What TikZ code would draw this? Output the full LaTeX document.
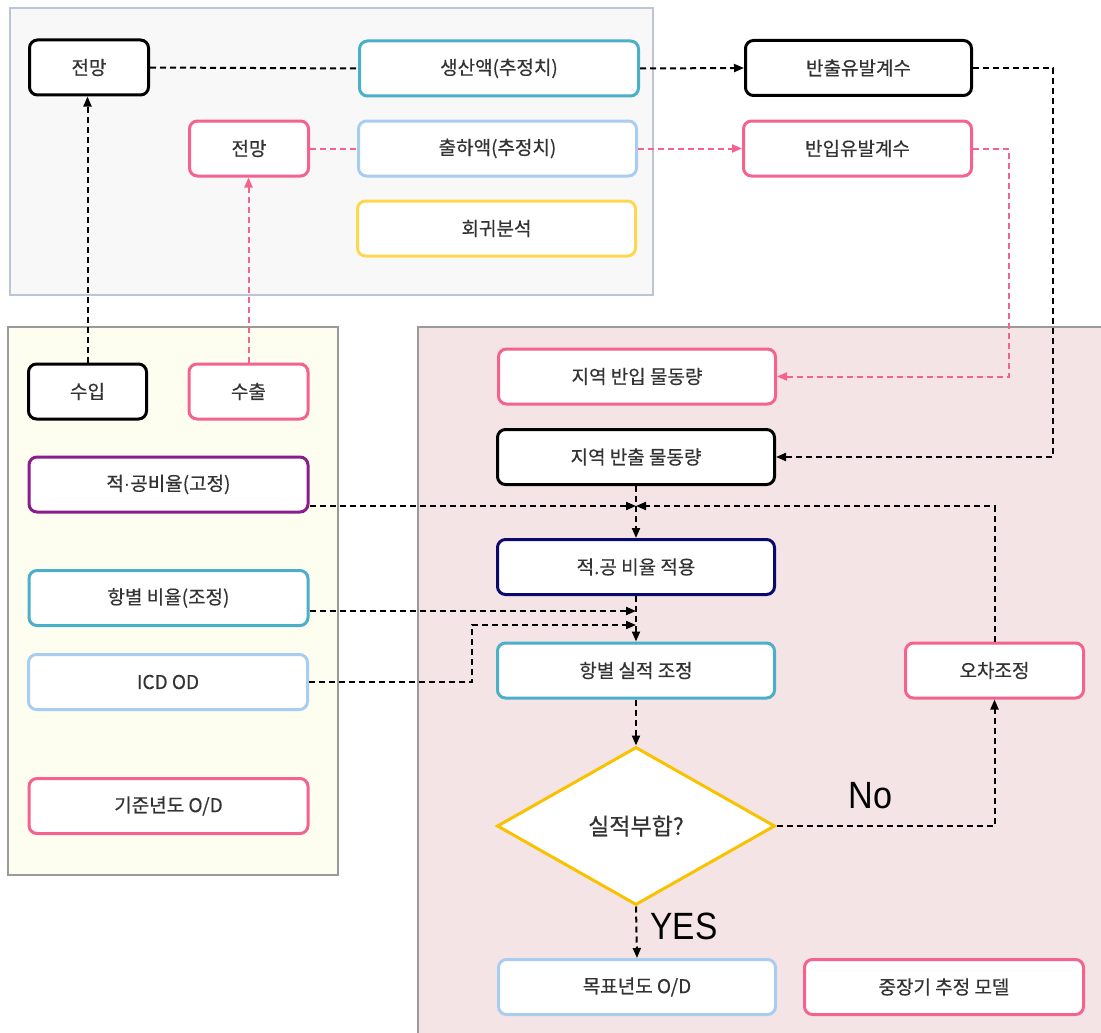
\documentclass[tikz,border=0pt]{standalone}
\usepackage{fontspec}
\usepackage{graphicx}
\setmainfont{Noto Sans CJK KR}[FakeBold=0.4]
\newfontfamily\latinfont{Liberation Sans}
\usetikzlibrary{positioning,shapes.geometric,arrows.meta}

\definecolor{txt}{HTML}{333333}
\definecolor{teal}{HTML}{4AAFC9}
\definecolor{sky}{HTML}{A9CDF0}
\definecolor{rose}{HTML}{F4628E}
\definecolor{gold}{HTML}{FFD74E}
\definecolor{plum}{HTML}{8A1C8C}
\definecolor{navy}{HTML}{0A0A6E}
\definecolor{amber}{HTML}{F9C200}

\tikzset{
  box/.style={draw=#1, line width=3pt, rounded corners=8pt, fill=white,
    minimum height=55pt, inner sep=0pt, text=txt,
    font=\fontsize{19}{22}\selectfont},
  small/.style={minimum width=119pt},
  wide/.style={minimum width=279pt},
  link/.style={line width=2pt, dash pattern=on 6pt off 4pt},
  arr/.style={link, -{Triangle[length=10pt,width=8pt]}},
  big/.style={font=\latinfont\fontsize{38}{40}\selectfont, inner sep=0pt}
}

\begin{document}
\begin{tikzpicture}[x=1pt,y=-1pt]
	\useasboundingbox (0,0) rectangle (1101,1033);
	
	\draw[draw={rgb,255:red,188;green,196;blue,216}, line width=2pt, fill={rgb,255:red,248;green,248;blue,248}] (10,8) rectangle (653,295);
	\draw[draw={rgb,255:red,154;green,154;blue,154}, line width=1.2pt, fill={rgb,255:red,253;green,253;blue,240}] (8,327) rectangle (338,875);
	\draw[draw={rgb,255:red,154;green,154;blue,154}, line width=1.2pt, fill={rgb,255:red,245;green,228;blue,230}] (418,327) rectangle (1110,1040);
	
	\node[box=black, small] (prj1) at (89,67.5) {전망};
	\node[box=teal, wide] (prod) at (499,68.5) {생산액(추정치)};
	\node[box=black, minimum width=226pt] (outc) at (858.5,68) {반출유발계수};
	\node[box=rose, small] (prj2) at (249,148.5) {전망};
	\node[box=sky, minimum width=278pt] (ship) at (497.5,148.5) {출하액(추정치)};
	\node[box=rose, minimum width=228pt] (inc) at (857.5,148.5) {반입유발계수};
	\node[box=gold, minimum width=278pt] (reg) at (496.5,228.5) {회귀분석};
	
	\node[box=black, minimum width=118pt] (imp) at (87.5,391.5) {수입};
	\node[box=rose, small] (exp) at (248.5,391.5) {수출};
	\node[box=plum, wide] (fix) at (168.5,484.5) {적{\latinfont ·}공비율(고정)};
	\node[box=teal, wide] (port) at (168.5,598) {항별 비율(조정)};
	\node[box=sky, wide] (icd) at (168,682) {ICD OD};
	\node[box=rose, wide] (base) at (168.5,806) {기준년도 O/D};
	
	\node[box=rose, minimum width=277pt] (rin) at (637,376.5) {지역 반입 물동량};
	\node[box=black, minimum width=277pt] (rout) at (636,457) {지역 반출 물동량};
	\node[box=navy, minimum width=277pt] (apply) at (636,567) {적.공 비율 적용};
	\node[box=teal, minimum width=277pt] (adj) at (636,670.5) {항별 실적 조정};
	\node[box=rose, minimum width=178pt] (err) at (994.5,670.5) {오차조정};
	\node[box=amber, diamond, rounded corners=0pt, minimum width=278pt, minimum height=158pt, aspect=1.75, font=\fontsize{23}{26}\selectfont] (chk) at (636,826) {실적부합?};
	\node[box=sky, minimum width=277pt] (tgt) at (637,987) {목표년도 O/D};
	\node[box=rose, wide] (mid) at (944,987) {중장기 추정 모델};
	
	\node[big] (no) at (870.5,796) {\scalebox{0.9}[1]{No}};
	\node[big] (yes) at (684,926.5) {\scalebox{0.88}[1]{YES}};
	
	\coordinate (j1) at (636,506);
	\coordinate (j2) at (636,611);
	\coordinate (j3) at (636,625);
	\coordinate (k3) at (472,625);
	\coordinate (rt1) at (1053,0);
	\coordinate (rt2) at (1009,0);
	
	\draw[link] (prj1.east) -- (prod.west);
	\draw[arr] (prod.east) -- (outc.west);
	\draw[arr] (outc.east) -| (rt1 |- rout.east) -- (rout.east);
	\draw[link, rose] (prj2.east) -- (ship.west);
	\draw[arr, rose] (ship.east) -- (inc.west);
	\draw[arr, rose] (inc.east) -| (rt2 |- rin.east) -- (rin.east);
	\draw[arr] (imp.north) -- (imp.north |- prj1.south);
	\draw[arr, rose] (exp.north) -- (exp.north |- prj2.south);
	
	\draw[arr] (rout.south) -- (apply.north);
	\draw[arr] (j1 -| fix.east) -- (j1);
	\draw[arr] (err.north) |- (j1);
	\draw[arr] (apply.south) -- (adj.north);
	\draw[arr] (j2 -| port.east) -- (j2);
	\draw[arr] (icd.east) -| (k3) -- (j3);
	\draw[arr] (adj.south) -- (chk.north);
	\draw[arr] (chk.east) -| (err.south);
	\draw[arr] (chk.south) -- (tgt.north);
\end{tikzpicture}
\end{document}
